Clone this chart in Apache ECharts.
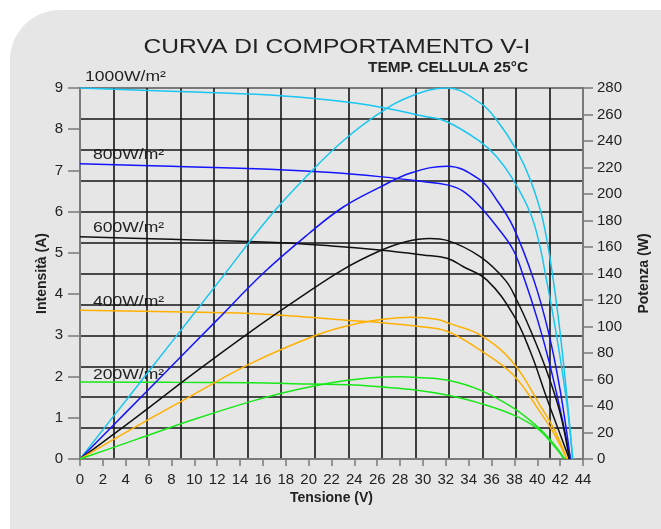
<!DOCTYPE html>
<html><head><meta charset="utf-8">
<script src="https://cdn.jsdelivr.net/npm/echarts@6/dist/echarts.min.js"></script>
<style>html,body{margin:0;padding:0;background:#fff;}#c{width:661px;height:529px;}</style>
</head><body><div id="c"></div>
<script>
// ---- data ----
const xTickValues = [0,2,4,6,8,10,12,14,16,18,20,22,24,26,28,30,32,34,36,38,40,42,44];
const irradianceLabels = ['1000W/m²','800W/m²','600W/m²','400W/m²','200W/m²'];

// I-V curves (Tensione V -> Intensità A)
const vI1000 = [0, 8, 16.6, 22, 26.2, 30, 32.1, 35, 36.45, 37.9, 39.4, 40.2, 40.7, 41.5, 42.2, 42.7, 43.1];
const i1000  = [9.0, 8.92, 8.83, 8.7, 8.54, 8.32, 8.18, 7.70, 7.33, 6.77, 5.96, 5.2, 4.5, 3.3, 2.1, 1.1, 0];
const vI800  = [0, 8, 16.6, 22, 26.2, 30, 32.1, 33.5, 35, 36.45, 37.9, 38.9, 40, 41, 42, 42.9];
const i800   = [7.16, 7.1, 7.03, 6.95, 6.85, 6.73, 6.65, 6.5, 6.12, 5.64, 5.07, 4.34, 3.4, 2.4, 1.2, 0];
const vI600  = [0, 8, 16.6, 22, 26.2, 30, 32.1, 33.5, 35.6, 37.9, 39.4, 40.8, 42.0, 42.8];
const i600   = [5.39, 5.33, 5.26, 5.17, 5.07, 4.95, 4.87, 4.67, 4.34, 3.5, 2.6, 1.5, 0.6, 0];
const vI400  = [0, 8, 14.9, 20, 23.6, 26.2, 29.5, 32.1, 35, 37.9, 40.3, 41.5, 42.6];
const i400   = [3.61, 3.57, 3.53, 3.44, 3.36, 3.31, 3.22, 3.1, 2.64, 2.04, 1.12, 0.6, 0];
const vI200  = [0, 8, 14.9, 20, 23.6, 26.2, 29.5, 32.1, 35, 37.9, 40, 41.4, 42.35];
const i200   = [1.87, 1.86, 1.85, 1.82, 1.80, 1.75, 1.67, 1.55, 1.35, 1.07, 0.74, 0.34, 0];

// P-V curves (Tensione V -> Potenza W)
const vP1000 = [0, 4, 8, 12.25, 16.6, 20, 23, 26.2, 29, 32.1, 35, 36.45, 38.2, 39.4, 40.5, 41.4, 42.2, 43.1];
const p1000  = [0, 44, 88, 135, 183, 215, 240, 261, 274, 280, 268.7, 255.8, 233, 210.6, 180, 135, 80, 0];
const vP800  = [0, 4, 8, 12, 16, 20, 23, 26.2, 29, 32.1, 35, 36.45, 37.9, 39.7, 41, 42, 42.9];
const p800   = [0, 35, 70, 105, 140, 170, 190, 205, 216, 221, 210.6, 195.5, 175, 135, 95, 52, 0];
const vP600  = [0, 5, 10, 14.9, 19.1, 23, 26.2, 28.5, 30.6, 32.1, 35, 37.2, 38.2, 39.4, 40.8, 42, 42.8];
const p600   = [0, 32, 65, 96, 121, 143, 157, 164, 166.5, 165, 152.7, 135, 120, 97.4, 67, 34.7, 0];
const vP400  = [0, 5, 10, 14.9, 20.7, 23.6, 26.5, 29, 31.2, 32.4, 35, 37.9, 40.3, 41.5, 42.6];
const p400   = [0, 25, 49, 72, 93.6, 101, 105.4, 107, 105.4, 102, 93.6, 72.5, 39.6, 22, 0];
const vP200  = [0, 5, 10, 14.9, 17.8, 20.7, 23.6, 26.5, 28, 29.5, 32.1, 35, 37.9, 40, 41.4, 42.4];
const p200   = [0, 15, 30, 43.3, 50, 55.5, 59.6, 61.9, 62.1, 61.6, 59.6, 52, 38.5, 24.4, 11.8, 0];

// ---- styles ----
const colors = ['#18c6f2', '#1414ff', '#111111', '#ffb000', '#18e818'];
const FONT = '"Liberation Sans", Arial, sans-serif';
const TXT = '#222';
const AX = '#7a7a7a';

function pairs(xs, ys){ return xs.map((x,i)=>[x, ys[i]]); }
const ivSets = [[vI1000,i1000],[vI800,i800],[vI600,i600],[vI400,i400],[vI200,i200]];
const pvSets = [[vP1000,p1000],[vP800,p800],[vP600,p600],[vP400,p400],[vP200,p200]];

const series = [];
ivSets.forEach((s,k)=>series.push({
  type:'line', xAxisIndex:0, yAxisIndex:0, data:pairs(s[0],s[1]),
  smooth:0.4, showSymbol:false, silent:true, z:3,
  lineStyle:{color:colors[k], width:1.5}
}));
pvSets.forEach((s,k)=>series.push({
  type:'line', xAxisIndex:0, yAxisIndex:1, data:pairs(s[0],s[1]),
  smooth:0.4, showSymbol:false, silent:true, z:3,
  lineStyle:{color:colors[k], width:1.5}
}));

const labelY = [77, 155, 228, 302, 375];
const labelX = [85, 93, 93, 93, 93];
const graphics = [
  {type:'rect', z:-100, shape:{x:10, y:10, width:700, height:580, r:50}, style:{fill:'#e6e6e6'}},
  {type:'text', x:337, y:47, scaleX:1.17, style:{text:'CURVA DI COMPORTAMENTO V-I', fontSize:21, fontFamily:FONT, fill:TXT, align:'center', verticalAlign:'middle'}},
  {type:'text', x:528, y:68, scaleX:1.1, style:{text:'TEMP. CELLULA 25°C', fontSize:14, fontWeight:'bold', fontFamily:FONT, fill:TXT, align:'right', verticalAlign:'middle'}}
];
irradianceLabels.forEach((t,k)=>graphics.push({type:'text', x:labelX[k], y:labelY[k], scaleX:1.17,
  style:{text:t, fontSize:15, fontFamily:FONT, fill:TXT, align:'left', verticalAlign:'middle'}}));

const chart = echarts.init(document.getElementById('c'), null, {renderer:'canvas'});
chart.setOption({
  animation:false,
  backgroundColor:'transparent',
  graphic: graphics,
  grid:{left:80, right:78, top:88, bottom:70, show:true, borderColor:AX, borderWidth:2, backgroundColor:'transparent'},
  xAxis:[
    {type:'value', min:0, max:44, interval:2, position:'bottom',
     name:'Tensione (V)', nameLocation:'middle', nameGap:32, nameMoveOverlap:false,
     nameTextStyle:{fontSize:14, fontWeight:'bold', color:TXT, fontFamily:FONT},
     axisLine:{show:true, onZero:false, lineStyle:{color:AX, width:2}},
     axisTick:{show:true, inside:false, length:7, lineStyle:{color:AX, width:1.5}},
     axisLabel:{fontSize:15, color:TXT, fontFamily:FONT, margin:13},
     splitLine:{show:false}},
    {type:'value', min:0, max:15, interval:1, position:'top',
     axisLine:{show:false, onZero:false}, axisTick:{show:false}, axisLabel:{show:false},
     splitLine:{show:true, showMinLine:false, showMaxLine:false, lineStyle:{color:'#151515', width:1.6}}}
  ],
  yAxis:[
    {type:'value', min:0, max:9, interval:1, position:'left',
     name:'Intensità (A)', nameLocation:'middle', nameGap:31, nameRotate:90, nameMoveOverlap:false,
     nameTextStyle:{fontSize:14, fontWeight:'bold', color:TXT, fontFamily:FONT},
     axisLine:{show:true, onZero:false, lineStyle:{color:AX, width:2}},
     axisTick:{show:true, inside:false, length:12, lineStyle:{color:AX, width:1.5}},
     axisLabel:{inside:false, fontSize:15, color:TXT, fontFamily:FONT, margin:17},
     splitLine:{show:false}},
    {type:'value', min:0, max:280, interval:20, position:'right',
     name:'Potenza (W)', nameLocation:'middle', nameGap:54, nameRotate:90, nameMoveOverlap:false,
     nameTextStyle:{fontSize:14, fontWeight:'bold', color:TXT, fontFamily:FONT},
     axisLine:{show:true, onZero:false, lineStyle:{color:AX, width:2}},
     axisTick:{show:true, inside:false, length:10, lineStyle:{color:AX, width:1.5}},
     axisLabel:{inside:false, fontSize:15, color:TXT, fontFamily:FONT, margin:14},
     splitLine:{show:false}},
    {type:'value', min:0, max:12, interval:1, position:'right',
     axisLine:{show:false, onZero:false}, axisTick:{show:false}, axisLabel:{show:false},
     splitLine:{show:true, showMinLine:false, showMaxLine:false, lineStyle:{color:'#151515', width:1.6}}}
  ],
  series: series
});
</script></body></html>
